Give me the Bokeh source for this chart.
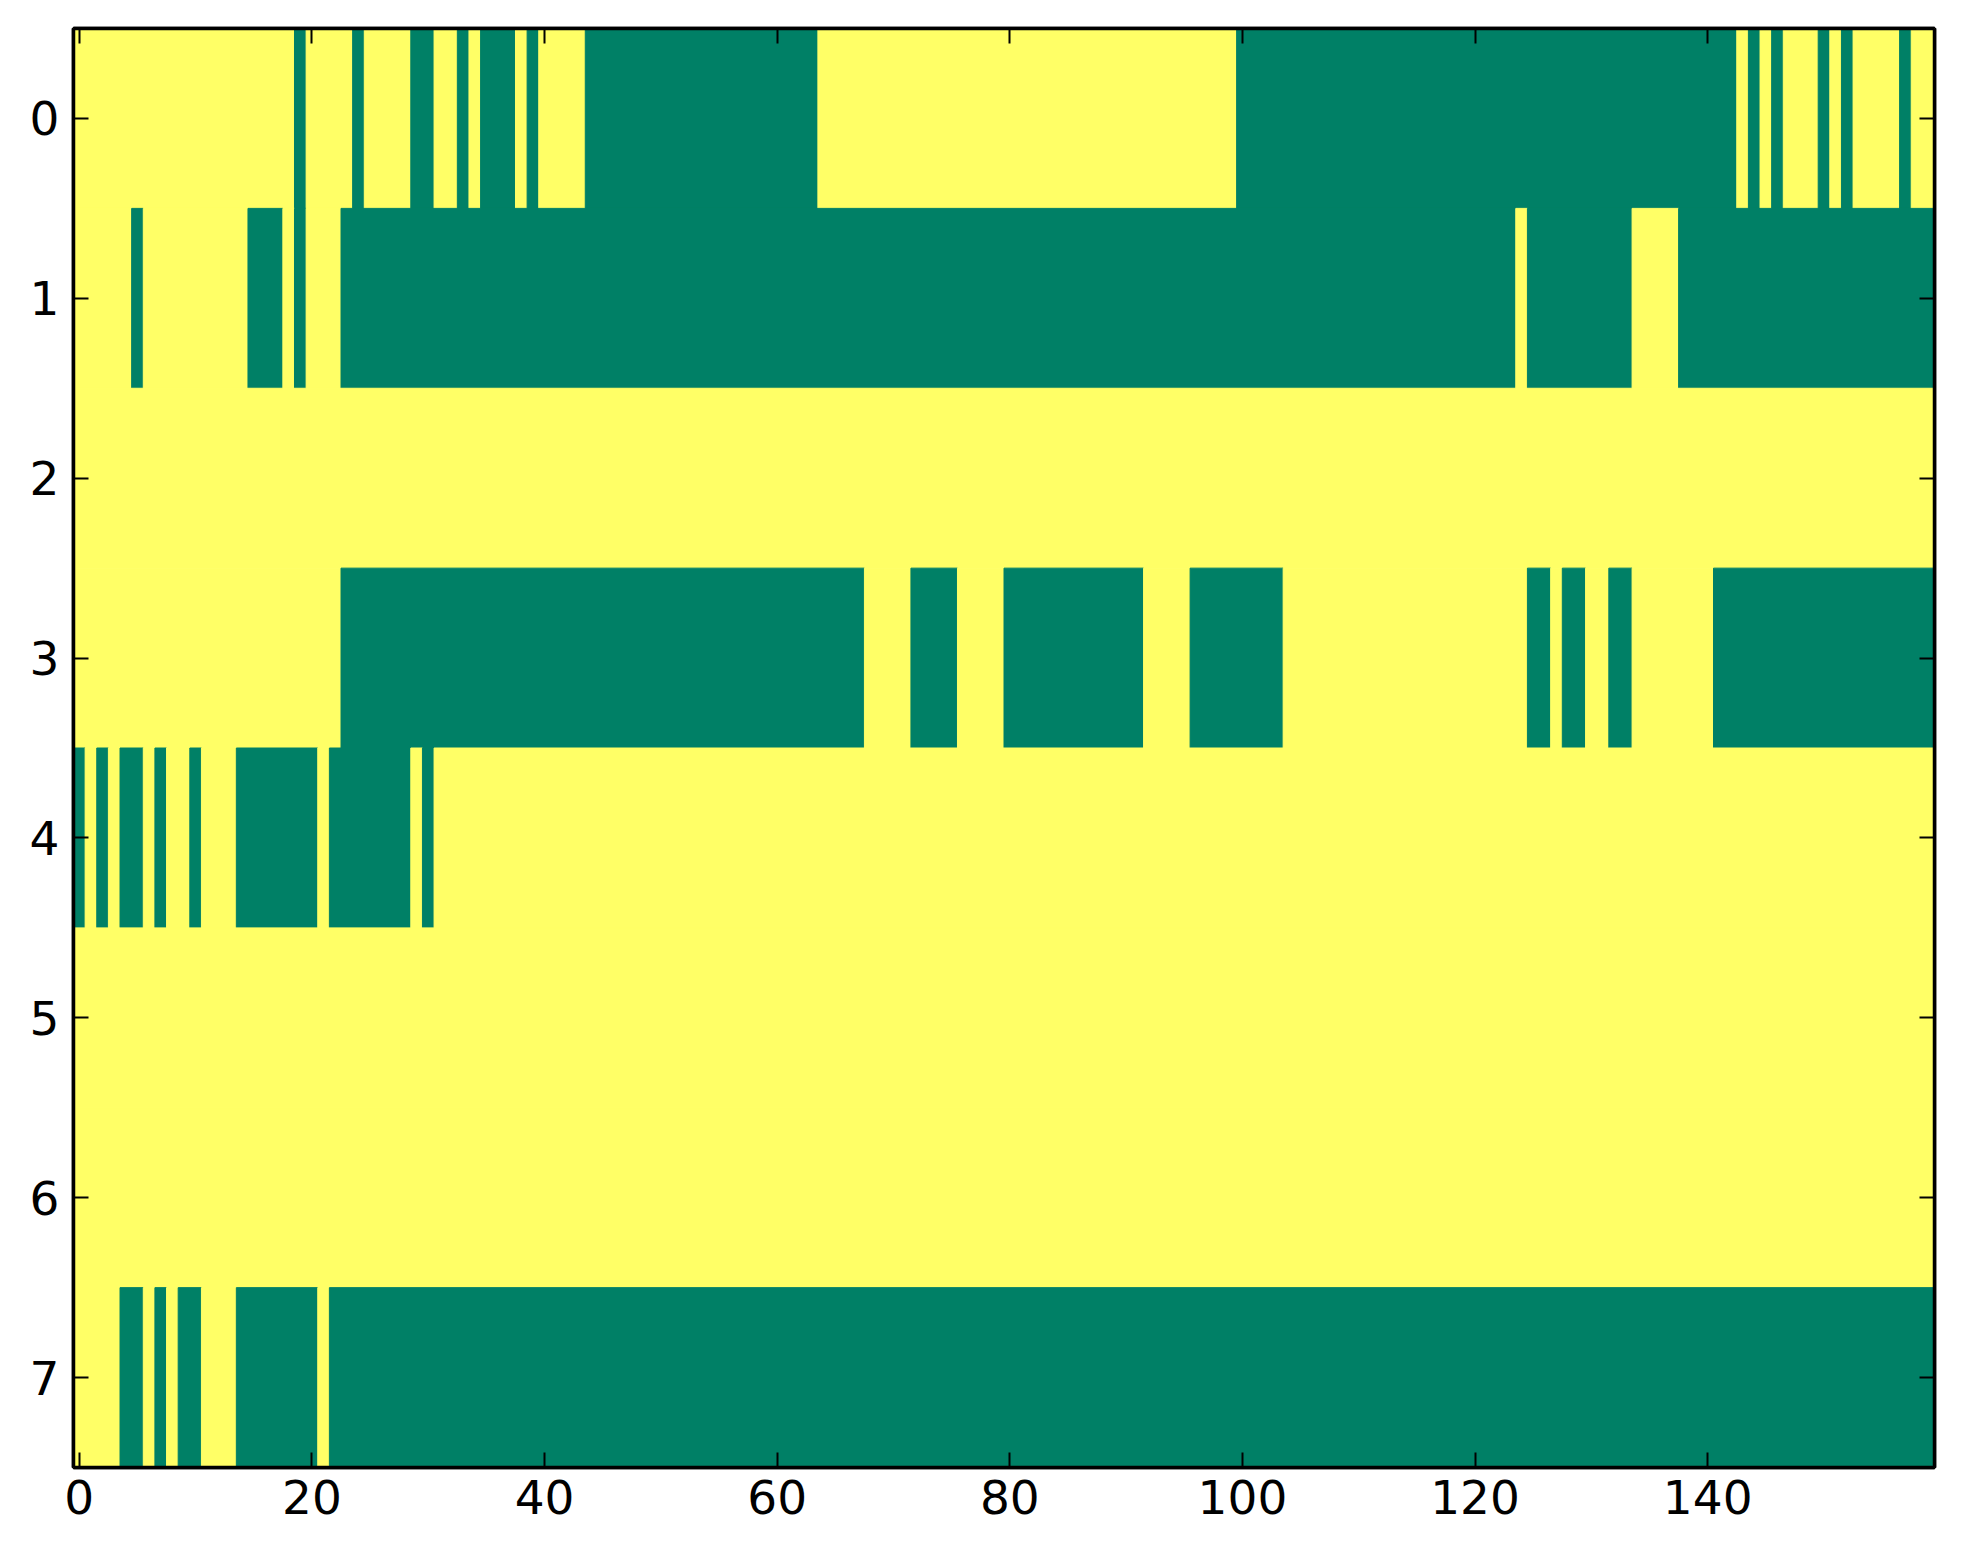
from bokeh.plotting import figure
from bokeh.models import Range1d, LinearAxis, FixedTicker, ColumnDataSource
from bokeh.embed import file_html
from bokeh.resources import INLINE

# 1 = yellow (high), 0 = green (low); 160 columns per row, blocks of 10
row0 = ("1111111111" "1111111110" "1111011110" "0110100010" "1111000000" "0000000000"
        "0000111111" "1111111111" "1111111111" "1111111111" "0000000000" "0000000000"
        "0000000000" "0000000000" "0001010111" "0101111011")
row1 = ("1111101111" "1111100010" "1110000000" "0000000000" "0000000000" "0000000000"
        "0000000000" "0000000000" "0000000000" "0000000000" "0000000000" "0000000000"
        "0000100000" "0000111100" "0000000000" "0000000000")
row2 = ("1111111111" "1111111111" "1111111111" "1111111111" "1111111111" "1111111111"
        "1111111111" "1111111111" "1111111111" "1111111111" "1111111111" "1111111111"
        "1111111111" "1111111111" "1111111111" "1111111111")
row3 = ("1111111111" "1111111111" "1110000000" "0000000000" "0000000000" "0000000000"
        "0000000011" "1100001111" "0000000000" "0011110000" "0000111111" "1111111111"
        "1111100100" "1100111111" "1000000000" "0000000000")
row4 = ("0101001011" "0111000000" "0100000001" "0111111111" "1111111111" "1111111111"
        "1111111111" "1111111111" "1111111111" "1111111111" "1111111111" "1111111111"
        "1111111111" "1111111111" "1111111111" "1111111111")
row5 = row2
row6 = row2
row7 = ("1111001010" "0111000000" "0100000000" "0000000000" "0000000000" "0000000000"
        "0000000000" "0000000000" "0000000000" "0000000000" "0000000000" "0000000000"
        "0000000000" "0000000000" "0000000000" "0000000000")
rows = [row0, row1, row2, row3, row4, row5, row6, row7]

x_ticks = [0, 20, 40, 60, 80, 100, 120, 140]
y_ticks = [0, 1, 2, 3, 4, 5, 6, 7]

GREEN = "#008066"
YELLOW = "#ffff66"

left, right, top, bottom, color = [], [], [], [], []
for r, s in enumerate(rows):
    vals = [int(ch) for ch in s]
    n = len(vals)
    start = 0
    for c in range(1, n + 1):
        if c == n or vals[c] != vals[start]:
            left.append(start - 0.5)
            right.append(c - 0.5)
            top.append(r - 0.5)
            bottom.append(r + 0.5)
            color.append(YELLOW if vals[start] else GREEN)
            start = c

src = ColumnDataSource(dict(left=left, right=right, top=top, bottom=bottom, color=color))

p = figure(frame_width=1861, frame_height=1439,
           x_range=Range1d(-0.5, 159.5), y_range=Range1d(7.5, -0.5),
           output_backend="svg", toolbar_location=None,
           x_axis_location=None, y_axis_location=None,
           min_border_left=73, min_border_top=28, min_border_right=25, min_border_bottom=90)
p.grid.visible = False
p.background_fill_color = "white"
p.outline_line_color = "black"
p.outline_line_width = 3.5

p.quad(left="left", right="right", top="top", bottom="bottom", source=src,
       fill_color="color", line_color="color", line_width=1)

def style(ax, show):
    ax.axis_line_color = "black"
    ax.axis_line_width = 3.5
    ax.major_tick_in = 15
    ax.major_tick_out = 0
    ax.major_tick_line_width = 2
    ax.major_tick_line_color = "black"
    ax.minor_tick_line_color = None
    ax.major_label_text_font = "DejaVu Sans"
    ax.major_label_text_color = "black"
    if show:
        ax.major_label_text_font_size = "47px"
    else:
        ax.major_label_text_font_size = "0px"
        ax.major_label_text_alpha = 0

bx = LinearAxis(ticker=FixedTicker(ticks=x_ticks))
style(bx, True)
bx.major_label_standoff = 12
ly = LinearAxis(ticker=FixedTicker(ticks=y_ticks))
style(ly, True)
ly.major_label_standoff = 14
tx = LinearAxis(ticker=FixedTicker(ticks=x_ticks))
style(tx, False)
ry = LinearAxis(ticker=FixedTicker(ticks=y_ticks))
style(ry, False)
p.add_layout(bx, "below")
p.add_layout(ly, "left")
p.add_layout(tx, "above")
p.add_layout(ry, "right")

open("out.html", "w").write(file_html(p, INLINE))
